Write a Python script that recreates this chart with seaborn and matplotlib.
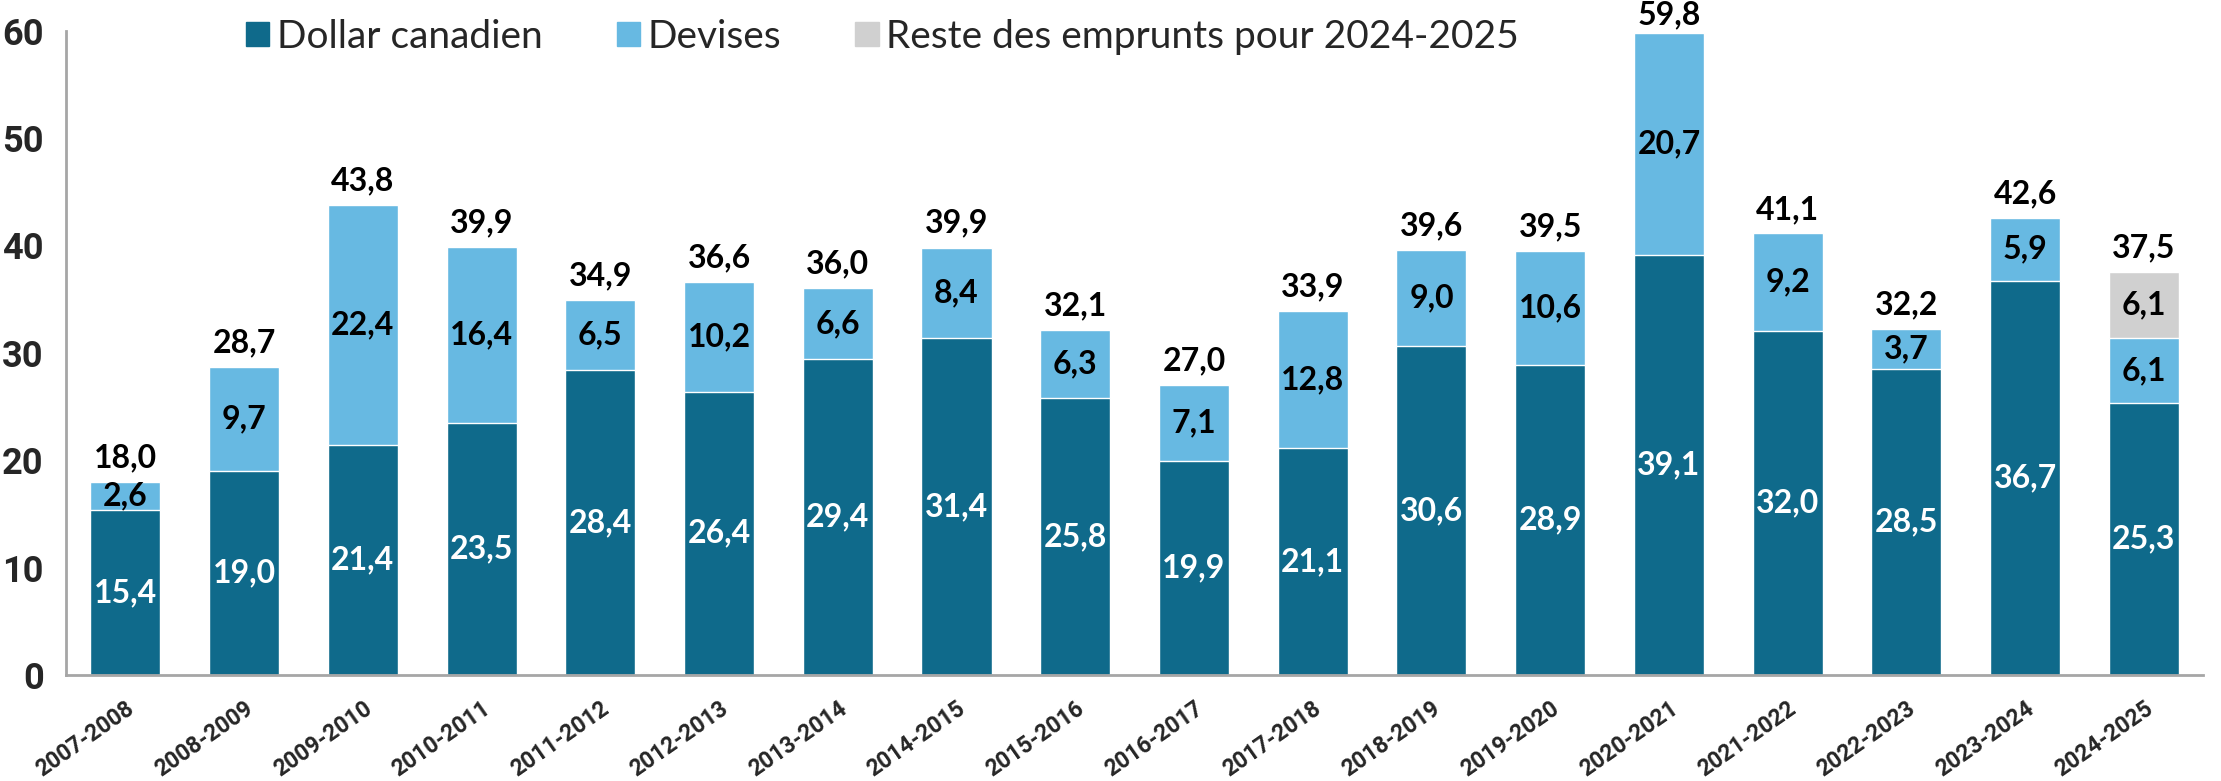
import numpy as np
import pandas as pd
import matplotlib
matplotlib.use("Agg")
import matplotlib.pyplot as plt
import seaborn as sns
from matplotlib.patches import Patch

years = ["2007-2008", "2008-2009", "2009-2010", "2010-2011", "2011-2012", "2012-2013",
         "2013-2014", "2014-2015", "2015-2016", "2016-2017", "2017-2018", "2018-2019",
         "2019-2020", "2020-2021", "2021-2022", "2022-2023", "2023-2024", "2024-2025"]
cad = [15.4, 19.0, 21.4, 23.5, 28.4, 26.4, 29.4, 31.4, 25.8, 19.9, 21.1, 30.6,
       28.9, 39.1, 32.0, 28.5, 36.7, 25.3]
devises = [2.6, 9.7, 22.4, 16.4, 6.5, 10.2, 6.6, 8.4, 6.3, 7.1, 12.8, 9.0,
           10.6, 20.7, 9.2, 3.7, 5.9, 6.1]
reste = [0, 0, 0, 0, 0, 0, 0, 0, 0, 0, 0, 0, 0, 0, 0, 0, 0, 6.1]
totals = [18.0, 28.7, 43.8, 39.9, 34.9, 36.6, 36.0, 39.9, 32.1, 27.0, 33.9, 39.6,
          39.5, 59.8, 41.1, 32.2, 42.6, 37.5]

c_cad = "#0F6A8B"
c_dev = "#67B9E2"
c_reste = "#D0D0D0"
c_axis = "#A6A6A6"

df = pd.DataFrame({"annee": years, "cad": cad, "dev": devises, "reste": reste})
df["cum_dev"] = df["cad"] + df["dev"]
df["cum_all"] = df["cum_dev"] + df["reste"]

sns.set_style("white")
plt.rcParams["font.family"] = ["Lato", "DejaVu Sans"]
narrow = ["Liberation Sans Narrow", "Roboto", "DejaVu Sans"]

fig = plt.figure(figsize=(22.21, 7.81), dpi=100)
ax = fig.add_axes([0.0297, 0.1357, 0.9623, 0.825])

w = 0.59
sns.barplot(data=df, x="annee", y="cum_all", color=c_reste, width=w, ax=ax, saturation=1)
sns.barplot(data=df, x="annee", y="cum_dev", color=c_dev, width=w, ax=ax, saturation=1)
sns.barplot(data=df, x="annee", y="cad", color=c_cad, width=w, ax=ax, saturation=1)

lab_font = dict(fontsize=23, fontweight="bold", ha="center", va="center")
for i in range(len(years)):
    ax.text(i, cad[i] / 2, f"{cad[i]:.1f}".replace(".", ","), color="white", **lab_font)
    ax.text(i, cad[i] + devises[i] / 2, f"{devises[i]:.1f}".replace(".", ","), color="black", **lab_font)
    if reste[i] > 0:
        ax.text(i, cad[i] + devises[i] + reste[i] / 2, f"{reste[i]:.1f}".replace(".", ","),
                color="black", **lab_font)
    ax.text(i, min(totals[i] + 0.9, 60.1), f"{totals[i]:.1f}".replace(".", ","), color="black",
            fontsize=23, fontweight="bold", ha="center", va="bottom", clip_on=False)

ax.set_ylim(0, 60)
ax.set_xlim(-0.5, len(years) - 0.5)
ax.set_yticks(range(0, 61, 10))
ax.set_yticklabels([str(v) for v in range(0, 61, 10)], fontsize=26, fontweight="bold",
                   family=narrow)
ax.set_xticks(np.arange(len(years) + 1) - 0.5)
ax.set_xticklabels([])
ax.set_xticks(np.arange(len(years)), minor=True)
ax.set_xticklabels(years, minor=True, rotation=35, ha="right", rotation_mode="anchor",
                   fontsize=16.5, fontweight="bold", family=narrow)
ax.tick_params(axis="x", which="major", length=7, width=2, color=c_axis, direction="out")
ax.tick_params(axis="x", which="minor", length=0, pad=16)
ax.tick_params(axis="y", length=8, width=2, color=c_axis, direction="out", pad=8)
ax.set_xlabel("")
ax.set_ylabel("")
for s in ["top", "right"]:
    ax.spines[s].set_visible(False)
for s in ["left", "bottom"]:
    ax.spines[s].set_color(c_axis)
    ax.spines[s].set_linewidth(2)

handles = [Patch(color=c_cad, label="Dollar canadien"),
           Patch(color=c_dev, label="Devises"),
           Patch(color=c_reste, label="Reste des emprunts pour 2024-2025")]
fig.legend(handles=handles, loc="center left", bbox_to_anchor=(0.095, 0.953), ncol=3,
           frameon=False, fontsize=28, handlelength=0.6, handleheight=0.6,
           handletextpad=0.2, columnspacing=1.9)

fig.savefig("out.png", dpi=100)
